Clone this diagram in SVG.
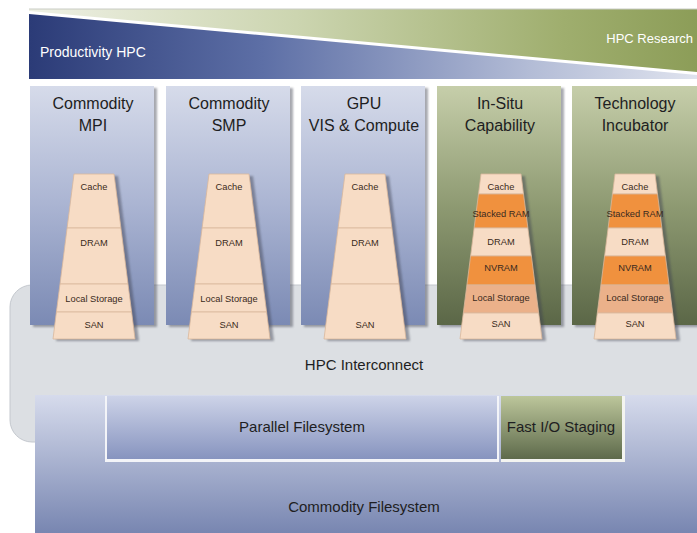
<svg xmlns="http://www.w3.org/2000/svg" width="697" height="533" viewBox="0 0 697 533">
<defs>
<linearGradient id="gBlueBan" x1="0" y1="0" x2="1" y2="0">
<stop offset="0" stop-color="#2b3b77"/><stop offset="0.35" stop-color="#5d6fa6"/><stop offset="0.75" stop-color="#b3bcd6"/><stop offset="1" stop-color="#dfe3ee"/>
</linearGradient>
<linearGradient id="gGreenBan" x1="0" y1="0" x2="1" y2="0">
<stop offset="0" stop-color="#eef0e4"/><stop offset="0.4" stop-color="#ccd5b0"/><stop offset="0.8" stop-color="#9fae6e"/><stop offset="1" stop-color="#8c9d58"/>
</linearGradient>
<linearGradient id="gBlueCol" x1="0" y1="0" x2="0" y2="1">
<stop offset="0" stop-color="#d6dbea"/><stop offset="0.5" stop-color="#aab4d2"/><stop offset="1" stop-color="#7b8ab4"/>
</linearGradient>
<linearGradient id="gGreenCol" x1="0" y1="0" x2="0" y2="1">
<stop offset="0" stop-color="#c6ceaa"/><stop offset="0.5" stop-color="#8e9a72"/><stop offset="1" stop-color="#5b6747"/>
</linearGradient>
<linearGradient id="gFs" x1="0" y1="0" x2="0" y2="1">
<stop offset="0" stop-color="#d6dbec"/><stop offset="1" stop-color="#7886b1"/>
</linearGradient>
<linearGradient id="gPfs" x1="0" y1="0" x2="0" y2="1">
<stop offset="0" stop-color="#cdd3e8"/><stop offset="1" stop-color="#8794bf"/>
</linearGradient>
<linearGradient id="gFast" x1="0" y1="0" x2="0" y2="1">
<stop offset="0" stop-color="#bcc69b"/><stop offset="1" stop-color="#5e6a4b"/>
</linearGradient>
<filter id="sh" x="-10%" y="-10%" width="130%" height="130%">
<feGaussianBlur stdDeviation="1.2"/>
</filter>
<style>
.t{font-family:"Liberation Sans","DejaVu Sans",Arial,sans-serif;fill:#1e1e22;text-anchor:middle}
.title{font-size:16px}
.big{font-size:15px}
.small{font-size:9.3px;fill:#3a2a20}
.ban{font-family:"Liberation Sans","DejaVu Sans",Arial,sans-serif;fill:#ffffff}
.pale{fill:#f7dcc5;stroke:#d9b89c;stroke-width:0.8}
.orange{fill:#f0913e;stroke:#d9b89c;stroke-width:0.8}
.tan{fill:#ebb18a;stroke:#d9b89c;stroke-width:0.8}
.shadow{fill:#3c4150;opacity:0.45;filter:url(#sh)}
</style>
</defs>
<rect x="0" y="0" width="697" height="533" fill="#ffffff"/>

<g id="banner">
<polygon points="29,9 697,9 697,72 29,11" fill="url(#gGreenBan)"/>
<polygon points="29,14 697,75 697,79 29,79" fill="url(#gBlueBan)"/>
<line x1="29" y1="9" x2="697" y2="9" stroke="#c9ccc4" stroke-width="1"/>
<text class="ban" x="40" y="57" font-size="14">Productivity HPC</text>
<text class="ban" x="693" y="43" font-size="13" text-anchor="end">HPC Research</text>
</g>

<g id="interconnect">
<rect x="10" y="285" width="720" height="157" rx="22" ry="22" fill="#dcdfe3" stroke="#c4c8ce" stroke-width="1"/>
<text class="t big" x="364" y="370">HPC Interconnect</text>
</g>

<g id="commodity-fs">
<rect x="35" y="395" width="662" height="138" fill="url(#gFs)"/>
<text class="t big" x="364" y="512">Commodity Filesystem</text>
</g>

<g id="parallel-fs">
<rect x="105" y="396" width="394" height="66" fill="#f3f4f8"/>
<rect x="107" y="396" width="390" height="63" fill="url(#gPfs)"/>
<text class="t big" x="302" y="432">Parallel Filesystem</text>
</g>

<g id="fast-io">
<rect x="501" y="396" width="124" height="66" fill="#f3f4f0"/>
<rect x="501" y="396" width="121" height="63" fill="url(#gFast)"/>
<text class="t big" x="561" y="432">Fast I/O Staging</text>
</g>

<g id="col-mpi">
<rect class="shadow" x="33" y="88" width="124" height="239"/>
<rect x="30" y="86" width="124" height="239" fill="url(#gBlueCol)"/>
<text class="t title" x="93" y="109">Commodity</text>
<text class="t title" x="93" y="131">MPI</text>
<g transform="translate(94,0)">
<polygon class="shadow" points="-18,176 24,176 45,341 -38,341"/>
<polygon class="pale" points="-20,174 20,174 26.9,228 -26.9,228"/>
<polygon class="pale" points="-26.9,228 26.9,228 34,284 -34,284"/>
<polygon class="pale" points="-34,284 34,284 37.6,312 -37.6,312"/>
<polygon class="pale" points="-37.6,312 37.6,312 41,339 -41,339"/>
<text class="t small" x="0" y="190">Cache</text>
<text class="t small" x="0" y="246">DRAM</text>
<text class="t small" x="0" y="302">Local Storage</text>
<text class="t small" x="0" y="328">SAN</text>
</g>
</g>

<g id="col-smp">
<rect class="shadow" x="169" y="88" width="124" height="239"/>
<rect x="166" y="86" width="124" height="239" fill="url(#gBlueCol)"/>
<text class="t title" x="229" y="109">Commodity</text>
<text class="t title" x="229" y="131">SMP</text>
<g transform="translate(229,0)">
<polygon class="shadow" points="-18,176 24,176 45,341 -38,341"/>
<polygon class="pale" points="-20,174 20,174 26.9,228 -26.9,228"/>
<polygon class="pale" points="-26.9,228 26.9,228 34,284 -34,284"/>
<polygon class="pale" points="-34,284 34,284 37.6,312 -37.6,312"/>
<polygon class="pale" points="-37.6,312 37.6,312 41,339 -41,339"/>
<text class="t small" x="0" y="190">Cache</text>
<text class="t small" x="0" y="246">DRAM</text>
<text class="t small" x="0" y="302">Local Storage</text>
<text class="t small" x="0" y="328">SAN</text>
</g>
</g>

<g id="col-gpu">
<rect class="shadow" x="304" y="88" width="124" height="239"/>
<rect x="301" y="86" width="124" height="239" fill="url(#gBlueCol)"/>
<text class="t title" x="364" y="109">GPU</text>
<text class="t title" x="364" y="131">VIS &amp; Compute</text>
<g transform="translate(365,0)">
<polygon class="shadow" points="-18,176 24,176 45,341 -38,341"/>
<polygon class="pale" points="-20,174 20,174 26.9,228 -26.9,228"/>
<polygon class="pale" points="-26.9,228 26.9,228 34,284 -34,284"/>
<polygon class="pale" points="-34,284 34,284 41,339 -41,339"/>
<text class="t small" x="0" y="190">Cache</text>
<text class="t small" x="0" y="246">DRAM</text>
<text class="t small" x="0" y="328">SAN</text>
</g>
</g>

<g id="col-insitu">
<rect class="shadow" x="440" y="88" width="124" height="239"/>
<rect x="437" y="86" width="124" height="239" fill="url(#gGreenCol)"/>
<text class="t title" x="500" y="109">In-Situ</text>
<text class="t title" x="500" y="131">Capability</text>
<g transform="translate(501,0)">
<polygon class="shadow" points="-18,176 24,176 45,341 -38,341"/>
<polygon class="pale" points="-20,174 20,174 22.5,194 -22.5,194"/>
<polygon class="orange" points="-22.5,194 22.5,194 26.9,228 -26.9,228"/>
<polygon class="pale" points="-26.9,228 26.9,228 30.4,256 -30.4,256"/>
<polygon class="orange" points="-30.4,256 30.4,256 34.1,285 -34.1,285"/>
<polygon class="tan" points="-34.1,285 34.1,285 37.7,313 -37.7,313"/>
<polygon class="pale" points="-37.7,313 37.7,313 41,339 -41,339"/>
<text class="t small" x="0" y="190">Cache</text>
<text class="t small" x="0" y="217">Stacked RAM</text>
<text class="t small" x="0" y="245">DRAM</text>
<text class="t small" x="0" y="271">NVRAM</text>
<text class="t small" x="0" y="301">Local Storage</text>
<text class="t small" x="0" y="327">SAN</text>
</g>
</g>

<g id="col-incubator">
<rect class="shadow" x="575" y="88" width="124" height="239"/>
<rect x="572" y="86" width="125" height="239" fill="url(#gGreenCol)"/>
<text class="t title" x="635" y="109">Technology</text>
<text class="t title" x="635" y="131">Incubator</text>
<g transform="translate(635,0)">
<polygon class="shadow" points="-18,176 24,176 45,341 -38,341"/>
<polygon class="pale" points="-20,174 20,174 22.5,194 -22.5,194"/>
<polygon class="orange" points="-22.5,194 22.5,194 26.9,228 -26.9,228"/>
<polygon class="pale" points="-26.9,228 26.9,228 30.4,256 -30.4,256"/>
<polygon class="orange" points="-30.4,256 30.4,256 34.1,285 -34.1,285"/>
<polygon class="tan" points="-34.1,285 34.1,285 37.7,313 -37.7,313"/>
<polygon class="pale" points="-37.7,313 37.7,313 41,339 -41,339"/>
<text class="t small" x="0" y="190">Cache</text>
<text class="t small" x="0" y="217">Stacked RAM</text>
<text class="t small" x="0" y="245">DRAM</text>
<text class="t small" x="0" y="271">NVRAM</text>
<text class="t small" x="0" y="301">Local Storage</text>
<text class="t small" x="0" y="327">SAN</text>
</g>
</g>

<g id="connectors"></g>
</svg>
